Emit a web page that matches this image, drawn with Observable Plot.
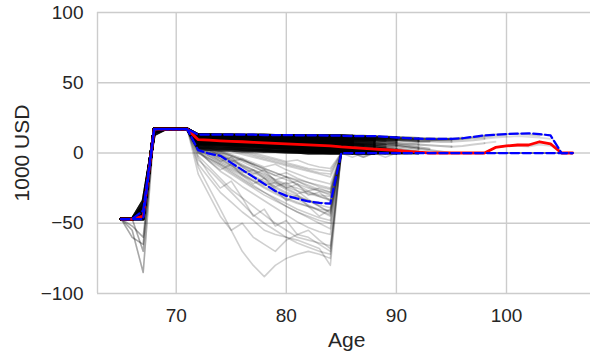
<!DOCTYPE html>
<html><head><meta charset="utf-8">
<script src="https://cdn.jsdelivr.net/npm/d3@7"></script>
<script src="https://cdn.jsdelivr.net/npm/@observablehq/plot@0.6"></script>
<style>html,body{margin:0;padding:0;background:#fff}svg{display:block}</style>
</head><body><div id="chart"></div>
<script>
const ages = [65,66,67,68,69,70,71,72,73,74,75,76,77,78,79,80,81,82,83,84,85,86,87,88,89,90,91,92,93,94,95,96,97,98,99,100,101,102,103,104,105,106];
const xTicks = [70, 80, 90, 100];
const yTicks = [-100, -50, 0, 50, 100];

// simulated paths that stay in the main band (values from age 65 until the path ends)
const bandPaths = [
  [-47,-47,-45,17,17,17,17,13,13,13,13,13,13,13,12.5,12.5,12.5,12.5,12.5,12.5,12.5,12,12,11.5,11.5,11,11,10.5,10.5,10,10,10.5,11.5,12.5,13.5,13.5,14,13.5,13,12.5,0,0],
  [-47,-47,-42,17,17,17,17,13,12.5,12.5,12.5,12.5,12.5,12.5,12.5,12,12,12,12,12,12,12,11.5,11.5,11,11,10.5,10,10,9.5,9.5,10,11,12,13,13.5,13.5,13,12],
  [-47,-47,-45,17,17,17,17,12.5,12.5,12.5,12,12,12,12,12,12,11.5,11.5,11.5,11.5,11.5,11,11,10.5,10.5,10,10,10,9.5,9.5,9.5,10,10.5,11,12,12.5],
  [-47,-47,-38,15,17,17,17,12.5,12,12,12,11.5,11.5,11.5,11,11,11,11,10.5,10.5,10.5,10,10,9.5,9,9,8.5,8,8],
  [-47,-47,-45,17,17,17,17,12,12,11.5,11.5,11.5,11,11,11,10.5,10.5,10.5,10,10,10,9.5,9,9,8.5,8],
  [-47,-47,-42,17,17,17,17,12,11.5,11.5,11,11,11,10.5,10.5,10,10,10,9.5,9.5,9,9,8.5,8,7.5,7,6.5,6,5.5,5,4.5,5,6,7,8],
  [-47,-47,-47,17,17,17,17,11.5,11.5,11,11,10.5,10.5,10,10,9.5,9.5,9,9,8.5,8.5,8,7.5,7,6.5,6,5,4,3],
  [-47,-47,-45,17,17,17,17,11.5,11,11,10.5,10.5,10,10,9.5,9.5,9,9,8.5,8.5,8,7.5,7,6.5,6],
  [-47,-47,-34,13,17,17,17,11,11,10.5,10.5,10,10,9.5,9.5,9,8.5,8.5,8,8,7.5,7,6.5,6,5.5,5,4,3,2,1,0,0,0,0,4,5,6,5.5,7],
  [-47,-47,-45,17,17,17,17,11,10.5,10.5,10,10,9.5,9,9,8.5,8,8,7.5,7,7,6.5,6,5,4],
  [-47,-47,-42,17,17,17,17,10.5,10.5,10,10,9.5,9,9,8.5,8,8,7.5,7,7,6.5,6,5.5,5,4,3,2,1],
  [-47,-47,-45,17,17,17,17,10.5,10,10,9.5,9,9,8.5,8,8,7.5,7,6.5,6,6,5.5,5,4,3],
  [-47,-47,-38,15,17,17,17,10,10,9.5,9,9,8.5,8,7.5,7,7,6.5,6,5.5,5],
  [-47,-47,-45,17,17,17,17,10,9.5,9,9,8.5,8,7.5,7,7,6.5,6,5.5,5,5,4.5,4,3.5,3,2,1,0,0,0],
  [-47,-47,-47,17,17,17,17,9.5,9.5,9,8.5,8,8,7.5,7,6.5,6,5.5,5,4.5,4,3.5,3,2,1,0,0],
  [-47,-47,-45,17,17,17,17,9.5,9,8.5,8,8,7.5,7,6.5,6,5.5,5,4.5,4,3.5,3,2.5,2,1],
  [-47,-47,-42,17,17,17,17,9,8.5,8.5,8,7.5,7,6.5,6,5.5,5,4.5,4,3.5,3,2.5,2,1,0,0,0,0,0,0,0],
  [-47,-47,-45,17,17,17,17,9,8.5,8,7.5,7,6.5,6,5.5,5,4.5,4,3.5,3,2.5,2,1.5,1,0],
  [-47,-47,-34,13,17,17,17,8.5,8,7.5,7,6.5,6,5.5,5,4.5,4,3.5,3,2.5,2,1.5,1,0,0,0,0,0,0],
  [-47,-47,-45,17,17,17,17,8,7.5,7,6.5,6,5.5,5,4.5,4,3.5,3,2.5,2,1.5,1,0,0,0],
  [-47,-47,-38,15,17,17,17,7.5,7,6.5,6,5.5,5,4.5,4,3.5,3,2.5,2,1.5,1,0.5,0,0],
  [-47,-47,-45,17,17,17,17,7,6.5,6,5.5,5,4.5,4,3.5,3,2.5,2,1.5,1,0.5,0,0,0,0,0,0,0,0,0,0,0,0],
  [-47,-47,-42,17,17,17,17,6,5.5,5,4.5,4,3.5,3,2.5,2,1.5,1,0.5,0,0],
  [-47,-47,-45,17,17,17,17,5,4.5,4,3.5,3,2.5,2,1.5,1,0.5,0,0,0,0,0,0,0,0,0],
  [-47,-47,-47,17,17,17,17,12.5,12.5,12,12,12,12,11.5,11.5,11.5,11.5,11,11,11,11,10.5,10.5,10,10,9.5,9.5,9,9,9.5,10,11],
  [-47,-47,-45,17,17,17,17,12,12,12,11.5,11.5,11,11,11,11,10.5,10.5,10.5,10,10,10,9.5,9.5,9],
  [-47,-47,-42,17,17,17,17,13,13,12.5,12.5,12.5,12.5,12,12,12,12,12,12,12,12,11.5,11.5,11,11,10.5,10.5,10,10,10,10,10.5],
  [-47,-47,-45,17,17,17,17,11.5,11.5,11,11,11,10.5,10.5,10.5,10,10,10,9.5,9.5,9.5,9,9,8.5],
  [-47,-47,-38,15,17,17,17,10,9.5,9.5,9,9,8.5,8.5,8,8,7.5,7.5,7,7,6.5,6,5.5],
  [-47,-47,-45,17,17,17,17,8.5,8,8,7.5,7,7,6.5,6,6,5.5,5,5,4.5,4,3.5,3,2.5,2,1.5,1,0,0,0,0,0,0,0,4,5,5,4.5,6,5],
  [-47,-47,-42,17,17,17,17,13,13,13,13,12.5,12.5,12.5,12.5,12.5,12.5,12,12,12,12,12,11.5,11.5,11,11],
  [-47,-47,-45,17,17,17,17,12.5,12.5,12,12,12,11.5,11.5,11.5,11,11,11,11,10.5,10.5,10.5,10,10,9.5,9.5,9,8.5,8.5,8,8,8.5,9,10,11,11.5,12,11.5,11,10],
  [-47,-47,-45,17,17,17,17,4,3.5,3,3,2.5,2,2,1.5,1.5,1,1,0.5,0.5,0.5,0,0,0,0,0,0,0],
  [-47,-47,-42,17,17,17,17,6.5,6,6,5.5,5,5,4.5,4,4,3.5,3,3,2.5,2,1.5,1,0.5,0,0],
  [-47,-47,-45,17,17,17,17,3,2.5,2,2,1.5,1.5,1,1,0.5,0.5,0,0,0,0,0,0,0,0,0,0,0,0,0,0],
  [-47,-47,-38,15,17,17,17,7.5,7,7,6.5,6.5,6,6,5.5,5,5,4.5,4,4,3.5,3,2.5,2,1.5,1,0.5,0]
];

// simulated paths that fall below zero before age 85
const tailPaths = [
  [-47,-47,-45,17,17,17,17,3,0,-3,-7,-12,-17,-22,-27,-30,-32,-34,-35,-36,0,0,0,0,0,0,0],
  [-47,-55,-85,17,17,17,17,2,-2,-6,-10,-15,-20,-25,-29,-33,-36,-38,-40,-41,0,0,0,0,0],
  [-47,-47,-45,17,17,17,17,4,1,-2,-5,-9,-13,-17,-21,-24,-27,-29,-31,-33,0,0,-3,0,0,0,0,0,0,0],
  [-47,-60,-65,17,17,17,17,0,-5,-10,-15,-20,-25,-30,-34,-38,-42,-45,-48,-50,0,0,0],
  [-47,-47,-45,17,17,17,17,5,2,-1,-4,-8,-12,-16,-20,-23,-25,-28,-30,-31,0,-3,0,0,-3,0,0,0,0,0,0,0],
  [-47,-47,-45,17,17,17,17,-5,-12,-20,-28,-36,-44,-50,-55,-60,-64,-67,-70,-72,0,0],
  [-47,-52,-60,15,17,17,17,6,3,0,-2,-5,-8,-11,-14,-17,-19,-21,-23,-25,0,0,0,0,0,0,0,0,0,0,0,0,0,0,0,0,0,0,0,0,0,0],
  [-47,-47,-45,17,17,17,17,1,-4,-9,-14,-19,-24,-28,-32,-36,-40,-43,-46,-48,0,0,0,0],
  [-47,-47,-70,17,17,17,17,-10,-25,-40,-55,-70,-80,-88,-80,-75,-72,-70,-72,-75,0],
  [-47,-47,-45,17,17,17,17,4,0,-4,-8,-12,-16,-20,-24,-28,-31,-34,-37,-39,0,0,0,0,0,0,0,0,0,0,0,0,0,0],
  [-47,-47,-45,17,17,17,17,7,5,3,1,-1,-3,-5,-7,-9,-11,-13,-15,-17,0,0,0,0,0,0,0,0,0,0],
  [-47,-55,-85,17,17,17,17,5,2,-2,-6,-10,-14,-18,-22,-26,-30,-34,-38,-42,0,0,0],
  [-47,-47,-45,17,17,17,17,2,-3,-8,-13,-18,-23,-28,-33,-38,-42,-46,-50,-54,0,0,0,0,0,0,0,0],
  [-47,-47,-45,17,17,17,17,8,6,4,2,0,-2,-4,-6,-8,-10,-12,-14,-15,0,0,0,0,0,0,0,0,0,0,0,0,0,0,0,0,0,0,0,0],
  [-47,-60,-65,17,17,17,17,-2,-10,-18,-26,-32,-38,-44,-50,-55,-60,-62,-64,-66,0,0,0,0,0],
  [-47,-47,-45,17,17,17,17,6,4,1,-2,-5,-8,-12,-16,-19,-22,-25,-27,-29,0,0,0,0,0,0,0,0,0,0,0,0,0,0,0,0],
  [-47,-47,-45,17,17,17,17,-8,-18,-28,-35,-42,-48,-55,-58,-60,-62,-65,-68,-80,0,0],
  [-47,-52,-60,15,17,17,17,3,-1,-5,-9,-13,-17,-21,-25,-29,-33,-37,-41,-45,0,0,-3,0,0,0],
  [-47,-47,-45,17,17,17,17,7,4,1,-2,-5,-8,-11,-14,-17,-20,-23,-26,-28,0,0,0,0,0,0,0,0,0,0,0,0],
  [-47,-47,-45,17,17,17,17,0,-4,-8,-12,-16,-20,-24,-28,-32,-35,-38,-41,-44,0,0,0,0,0,0,0],
  [-47,-47,-45,17,17,17,17,9,7,5,3,1,-1,-3,-5,-7,-9,-11,-12,-13,0,0,0,0,0,0,0,0,0,0,0,0,0,0,0,0,0,0,0,0,0,0],
  [-47,-47,-70,17,17,17,17,-15,-30,-45,-55,-50,-60,-65,-70,-62,-58,-60,-65,-70,0,0,0],
  [-47,-47,-45,17,17,17,17,2,-6,-12,-8,-16,-22,-18,-26,-34,-30,-38,-45,-40,0,0,0,0,0,0],
  [-47,-47,-45,17,17,17,17,-3,-15,-25,-20,-32,-45,-40,-52,-48,-58,-55,-62,-68,0,0,0,0],
  [-47,-47,-45,17,17,17,17,5,0,-6,-3,-10,-15,-12,-20,-25,-22,-30,-28,-34,0,0,-2,0,0,0,0,0,0],
  [-47,-47,-45,17,17,17,17,6,3,-1,-5,-9,-12,-15,-19,-22,-20,-24,-27,-30,0,0,0,0,0],
  [-47,-47,-42,17,17,17,17,8,5,2,-1,-4,-7,-10,-8,-12,-15,-18,-20,-22,0,0,0,0,0,0,0,0,0],
  [-47,-47,-45,17,17,17,17,3,-2,-7,-11,-15,-19,-23,-21,-25,-29,-27,-31,-34,0,0,0],
  [-47,-47,-45,17,17,17,17,9,8,6,4,2,0,-2,-4,-6,-5,-8,-10,-11,0,0,0,0,0,0,0,0,0,0,0,0],
  [-47,-47,-40,17,17,17,17,5,1,-4,-9,-14,-12,-18,-24,-21,-27,-33,-38,-43,0,0,0,0,0,0],
  [-47,-47,-45,17,17,17,17,4,2,-2,-6,-4,-9,-14,-19,-17,-23,-27,-25,-28,0,0,0,0,0,0,0,0],
  [-47,-47,-45,17,17,17,17,7,4,0,-3,-6,-10,-13,-16,-14,-18,-21,-24,-26,0,0,0,0,0,0,0,0,0,0,0],
  [-47,-47,-45,17,17,17,17,1,-6,-13,-18,-24,-29,-34,-39,-44,-49,-53,-56,-58,0,0,0,0]
];

const median = [-47,-47,-45,17,17,17,17,9.5,9.1,8.7,8.3,8,7.6,7.2,6.9,6.5,6.1,5.8,5.4,5,4.3,3.8,3.3,2.8,2.3,1.8,1.2,0.6,0,0,0,0,0,0,4,5,5.7,5.7,8,6.5,0,0];
const upper = [-47,-47,-41,17,17,17,17,13,13,13,13,13,13,12.8,12.8,12.7,12.6,12.5,12.5,12.4,12.3,12,12,12,11.5,11,10.5,10.2,10,10,10,10.5,11.5,12.5,13,13.5,13.8,14,13.5,12.5,0,0];
const lower = [-47,-47,-47,17,17,17,17,2,-0.5,-2,-7,-12,-17,-22,-27,-30.5,-32.5,-34.5,-35.5,-36,0,0,0,0,0,0,0,0,0,0,0,0,0,0,0,0,0,0,0,0,0,0];

// band paths fade as fewer of them survive: age breaks and the style used between them
const fadeBreaks = [65, 86, 88, 90, 92, 95, 98, 106];
const fadeOpacity = [0.75, 0.6, 0.47, 0.36, 0.27, 0.19, 0.14];
const fadeWidth = [3, 2.8, 2.6, 2.4, 2.2, 2, 1.8];

const toRows = (paths, tag) => paths.flatMap((p, k) => p.map((v, i) => ({age: ages[i], value: v, id: tag + k})));
const bandRows = toRows(bandPaths, "b");
const tailRows = toRows(tailPaths, "t");
const seriesRows = arr => arr.map((v, i) => ({age: ages[i], value: v}));

const bandMarks = fadeOpacity.map((op, j) =>
  Plot.line(bandRows.filter(d => d.age >= fadeBreaks[j] && d.age <= fadeBreaks[j + 1]),
    {x: "age", y: "value", z: "id", stroke: "black", strokeOpacity: op, strokeWidth: fadeWidth[j]}));

const xDomain = [62.85, 107.63];
const gridStyle = {stroke: "#cccccc", strokeOpacity: 1, strokeWidth: 1.4};
const fmt = d3.format("d");
const fs = 19;   // tick labels
const fl = 21;   // axis titles

const chart = Plot.plot({
  width: 590, height: 355,
  marginLeft: 97, marginRight: 0, marginTop: 12, marginBottom: 62,
  style: {fontFamily: "'Liberation Sans', Arial, sans-serif", fontSize: fs + "px", color: "#262626", background: "#ffffff", overflow: "visible"},
  x: {domain: xDomain},
  y: {domain: [-100, 100]},
  marks: [
    Plot.gridX([xDomain[0], ...xTicks], gridStyle),
    Plot.gridY(yTicks, gridStyle),
    Plot.axisX(xTicks, {tickSize: 0, tickPadding: 15, tickFormat: fmt, label: null, fill: "#262626", fontSize: fs}),
    Plot.axisY(yTicks, {tickSize: 0, tickPadding: 14, tickFormat: fmt, label: null, fill: "#262626", fontSize: fs}),
    Plot.line(tailRows, {x: "age", y: "value", z: "id", stroke: "black", strokeOpacity: 0.19, strokeWidth: 1.6}),
    ...bandMarks,
    Plot.line(seriesRows(median), {x: "age", y: "value", stroke: "#ff0000", strokeWidth: 2.8}),
    Plot.line(seriesRows(upper), {x: "age", y: "value", stroke: "#0000ff", strokeWidth: 2.25, strokeDasharray: "8.3,3.6"}),
    Plot.line(seriesRows(lower), {x: "age", y: "value", stroke: "#0000ff", strokeWidth: 2.25, strokeDasharray: "8.3,3.6"}),
    Plot.text(["Age"], {frameAnchor: "bottom", dx: 2.8, dy: 46.8, lineAnchor: "middle", textAnchor: "middle", fill: "#262626", fontSize: fl}),
    Plot.text(["1000 USD"], {frameAnchor: "left", dx: -75.2, rotate: -90, lineAnchor: "middle", textAnchor: "middle", fill: "#262626", fontSize: fl})
  ]
});
document.getElementById("chart").appendChild(chart);
</script>
</body></html>
